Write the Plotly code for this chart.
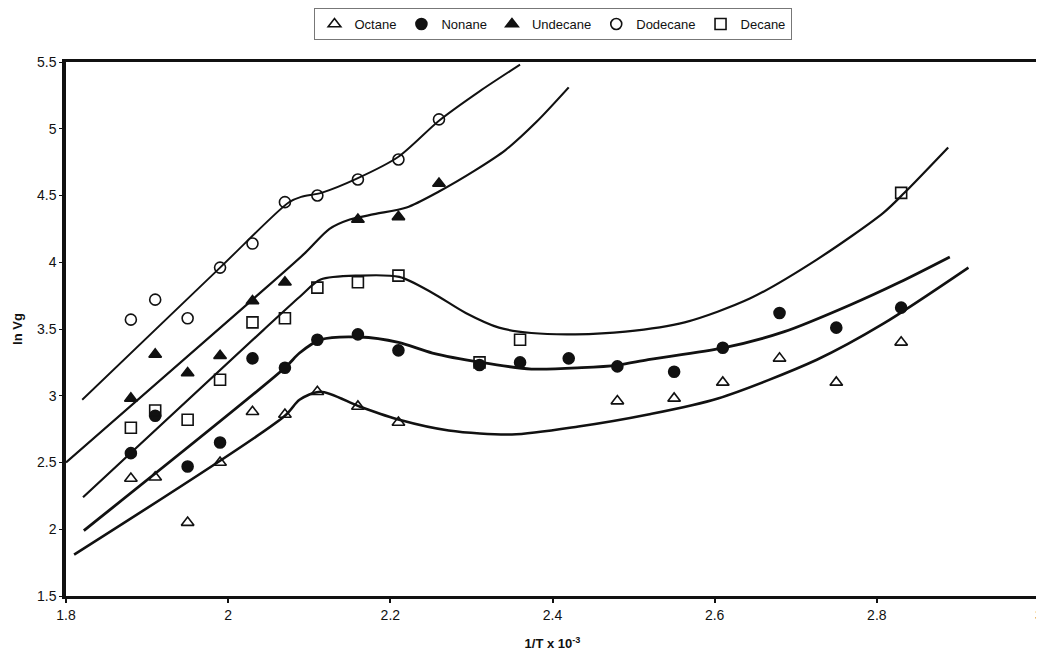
import plotly.graph_objects as go

# ---- measured points ----
octane_x = [1.88, 1.91, 1.95, 1.99, 2.03, 2.07, 2.11, 2.16, 2.21, 2.48, 2.55, 2.61, 2.68, 2.75, 2.83]
octane_y = [2.38, 2.39, 2.05, 2.50, 2.88, 2.86, 3.03, 2.92, 2.80, 2.96, 2.98, 3.10, 3.28, 3.10, 3.40]

nonane_x = [1.88, 1.91, 1.95, 1.99, 2.03, 2.07, 2.11, 2.16, 2.21, 2.31, 2.36, 2.42, 2.48, 2.55, 2.61, 2.68, 2.75, 2.83]
nonane_y = [2.57, 2.85, 2.47, 2.65, 3.28, 3.21, 3.42, 3.46, 3.34, 3.23, 3.25, 3.28, 3.22, 3.18, 3.36, 3.62, 3.51, 3.66]

undecane_x = [1.88, 1.91, 1.95, 1.99, 2.03, 2.07, 2.16, 2.21, 2.26]
undecane_y = [2.98, 3.31, 3.17, 3.30, 3.71, 3.85, 4.32, 4.34, 4.59]

dodecane_x = [1.88, 1.91, 1.95, 1.99, 2.03, 2.07, 2.11, 2.16, 2.21, 2.26]
dodecane_y = [3.57, 3.72, 3.58, 3.96, 4.14, 4.45, 4.50, 4.62, 4.77, 5.07]

decane_x = [1.88, 1.91, 1.95, 1.99, 2.03, 2.07, 2.11, 2.16, 2.21, 2.31, 2.36, 2.83]
decane_y = [2.76, 2.89, 2.82, 3.12, 3.55, 3.58, 3.81, 3.85, 3.90, 3.25, 3.42, 4.52]

# ---- fitted curves ----
fitA_x = [1.82, 1.99, 2.075, 2.09, 2.115, 2.16, 2.21, 2.26, 2.31, 2.36]
fitA_y = [2.97, 3.96, 4.45, 4.49, 4.52, 4.63, 4.79, 5.06, 5.28, 5.48]

fitB_x = [1.80, 2.03, 2.095, 2.125, 2.15, 2.18, 2.22, 2.26, 2.305, 2.342, 2.38, 2.42]
fitB_y = [2.50, 3.72, 4.07, 4.25, 4.32, 4.36, 4.41, 4.53, 4.69, 4.84, 5.05, 5.31]

fitC_x = [1.821, 2.043, 2.088, 2.114, 2.162, 2.211, 2.252, 2.293, 2.334, 2.374, 2.428, 2.49, 2.563, 2.644, 2.726, 2.808, 2.834, 2.888]
fitC_y = [2.24, 3.49, 3.74, 3.87, 3.90, 3.89, 3.77, 3.62, 3.51, 3.47, 3.46, 3.48, 3.55, 3.73, 4.02, 4.37, 4.52, 4.86]

fitD_x = [1.822, 2.07, 2.088, 2.114, 2.162, 2.21, 2.252, 2.312, 2.374, 2.436, 2.481, 2.518, 2.612, 2.686, 2.767, 2.828, 2.89]
fitD_y = [1.99, 3.21, 3.32, 3.42, 3.44, 3.40, 3.32, 3.25, 3.20, 3.21, 3.23, 3.27, 3.36, 3.48, 3.68, 3.85, 4.04]

fitE_x = [1.81, 2.07, 2.088, 2.114, 2.162, 2.211, 2.272, 2.35, 2.432, 2.518, 2.604, 2.726, 2.808, 2.913]
fitE_y = [1.81, 2.85, 2.97, 3.03, 2.92, 2.82, 2.74, 2.71, 2.77, 2.86, 2.98, 3.27, 3.54, 3.96]

x_ticks = [1.8, 2.0, 2.2, 2.4, 2.6, 2.8, 3.0]
x_tick_text = ["1.8", "2", "2.2", "2.4", "2.6", "2.8", "3"]
y_ticks = [1.5, 2, 2.5, 3, 3.5, 4, 4.5, 5, 5.5]
y_tick_text = ["1.5", "2", "2.5", "3", "3.5", "4", "4.5", "5", "5.5"]

FONT = "Liberation Sans, Arial, sans-serif"
fig = go.Figure()

curves = [(fitA_x, fitA_y, 1.9), (fitB_x, fitB_y, 2.2), (fitC_x, fitC_y, 2.2),
          (fitD_x, fitD_y, 2.8), (fitE_x, fitE_y, 2.6)]
for fx, fy, w in curves:
    fig.add_trace(go.Scatter(x=fx, y=fy, mode="lines", showlegend=False,
                             line=dict(color="#111", width=w, shape="spline", smoothing=0.8),
                             hoverinfo="skip"))

series = [
    ("Octane", octane_x, octane_y, "triangle-up-open"),
    ("Nonane", nonane_x, nonane_y, "circle"),
    ("Undecane", undecane_x, undecane_y, "triangle-up"),
    ("Dodecane", dodecane_x, dodecane_y, "circle-open"),
    ("Decane", decane_x, decane_y, "square-open"),
]
for name, sx, sy, sym in series:
    fig.add_trace(go.Scatter(x=sx, y=sy, mode="markers", name=name,
                             marker=dict(symbol=sym, size=11, color="#111",
                                         line=dict(color="#111", width=1.6))))

fig.update_layout(
    width=1036, height=650,
    margin=dict(l=58, r=1, t=54, b=62),
    paper_bgcolor="white", plot_bgcolor="white",
    font=dict(family=FONT, size=14, color="#111"),
    legend=dict(orientation="h", x=0.5, xanchor="center", y=1.0, yanchor="top",
                yref="container", bordercolor="#777", borderwidth=1,
                font=dict(size=13), itemwidth=30, tracegroupgap=0,
                bgcolor="white"),
    xaxis=dict(range=[1.8, 3.0], tickvals=x_ticks, ticktext=x_tick_text,
               showgrid=False, zeroline=False, showline=True, mirror=True,
               linecolor="#111", linewidth=3, ticks="outside", ticklen=4,
               tickwidth=2, tickcolor="#111", tickfont=dict(size=14),
               title=dict(text="<b>1/T x 10<sup>-3</sup></b>", font=dict(size=13), standoff=18)),
    yaxis=dict(range=[1.5, 5.5], tickvals=y_ticks, ticktext=y_tick_text,
               showgrid=False, zeroline=False, showline=True, mirror=True,
               linecolor="#111", linewidth=3.5, ticks="outside", ticklen=3,
               tickwidth=1, tickcolor="#111", tickfont=dict(size=14),
               title=dict(text="<b>ln Vg</b>", font=dict(size=13), standoff=12)),
)

fig.write_html("out.html")
